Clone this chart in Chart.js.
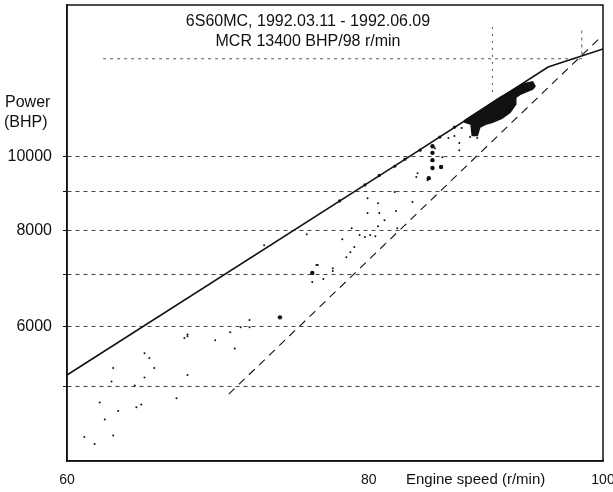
<!DOCTYPE html>
<html lang="en">
<head>
<meta charset="UTF-8">
<title>6S60MC Power / Engine speed</title>
<script src="https://cdn.jsdelivr.net/npm/chart.js"></script>
<style>
  html, body { margin: 0; padding: 0; background: #fff; }
</style>
</head>
<body>
<canvas id="myChart" width="613" height="492"></canvas>
<script>
// axis ticks
const speedTicks = [60, 80, 100];
const speedLabels = ['60', '80', '100'];
const powerTicks = [5000, 6000, 7000, 8000, 9000, 10000];
const powerLabels = ['', '6000', '', '8000', '', '10000'];

// texts
const titleLines = ['6S60MC, 1992.03.11 - 1992.06.09', 'MCR 13400 BHP/98 r/min'];
const yTitle = ['Power', '(BHP)'];
const xTitle = 'Engine speed (r/min)';

// solid limit line
const limitSpeed = [60, 83.2, 94.9, 100];
const limitPower = [5180, 10000, 13070, 13800];

// dashed propeller curve
const propSpeed = [70.0, 99.6];
const propPower = [4890, 14220];

// MCR marker lines (dotted)
const mcrSpeed = [62.1, 98, 98];
const mcrPower = [13400, 13400, 14600];
const markSpeed = [90, 90];
const markPower = [12130, 14830];

// small measurement dots
const dotSpeed = [67.3, 67.1, 70.1, 70.4, 69.1, 64.6, 64.9, 62.7, 65.2, 64.6, 62.6, 67.3, 64.0, 61.9, 63.0, 64.4, 64.1, 66.6, 62.2, 61.0, 61.6, 62.7,
  75.4, 72.4, 76.1, 77.3, 76.6, 75.8, 71.4, 71.4, 70.8, 67.3,
  83.8, 84.6, 83.7, 82.0, 83.4, 80.7, 79.9, 82.1, 80.8, 79.9, 81.2, 78.7, 79.3, 79.7, 80.1, 78.0, 78.9, 78.6, 78.3, 76.2, 77.3, 80.7, 82.2, 80.5,
  86.3, 86.8, 87.2, 87.4, 87.2, 88.1, 88.7, 85.2, 85.8];
const dotPower = [5850, 5790, 5890, 5610, 5750, 5530, 5450, 5290, 5290, 5140, 5080, 5180, 5020, 4770, 4650, 4740, 4700, 4830, 4530, 4300, 4210, 4320,
  7910, 7650, 7210, 7080, 6910, 6850, 6110, 5980, 5980, 5820,
  9500, 9300, 9390, 8980, 8710, 8680, 8810, 8480, 8430, 8430, 8250, 8050, 7890, 7840, 7890, 7790, 7610, 7490, 7380, 7210, 7140, 8100, 8050, 7860,
  10560, 10620, 10400, 10880, 10180, 10590, 10560, 10240, 9970];

// larger dots
const bigSpeed = [73.5, 75.8, 85.0, 85.0, 85.0, 85.0, 85.7, 84.7];
const bigPower = [6160, 7040, 10300, 10100, 9880, 9650, 9680, 9360];

// points lying on the limit line
const bumpSpeed = [77.8, 79.7, 80.8, 82.0, 82.8, 84.0, 85.6, 86.8, 87.7];
const bumpPower = [8740, 9170, 9440, 9700, 9910, 10180, 10590, 10910, 11110];

// outline of the dense cluster near MCR (filled)
const blobSpeed = [87.7, 88.9, 90.6, 92.0, 92.8, 93.5, 93.7, 93.5, 92.4, 92.0, 92.0, 91.5, 90.8, 90.0, 89.4, 88.9, 88.7, 88.3, 88.2, 87.7, 87.7];
const blobPower = [11140, 11450, 11910, 12240, 12420, 12490, 12340, 12240, 12050, 11940, 11690, 11410, 11210, 11080, 11010, 10910, 10650, 10650, 11010, 11080, 11140];

function zip(xs, ys) {
  return xs.map((x, i) => ({ x: x, y: ys[i] }));
}

const ink = '#111';
const font = 'Liberation Sans';

const textPlugin = {
  id: 'texts',
  afterDraw(chart) {
    const ctx = chart.ctx;
    const a = chart.chartArea;
    ctx.save();
    ctx.strokeStyle = ink;
    ctx.lineWidth = 1.5;
    ctx.strokeRect(a.left, a.top, a.right - a.left, a.bottom - a.top);
    ctx.fillStyle = ink;
    ctx.font = '16px "' + font + '"';
    ctx.textBaseline = 'middle';
    ctx.textAlign = 'center';
    ctx.fillText(titleLines[0], 308, 22);
    ctx.fillText(titleLines[1], 308, 42);
    ctx.textAlign = 'left';
    ctx.fillText(yTitle[0], 5, 103);
    ctx.fillText(yTitle[1], 4, 123);
    ctx.font = '15px "' + font + '"';
    ctx.fillText(xTitle, 406, 480);
    ctx.restore();
  }
};

const ctx = document.getElementById('myChart').getContext('2d');
new Chart(ctx, {
  type: 'scatter',
  data: {
    datasets: [
      { data: zip(limitSpeed, limitPower), showLine: true, borderColor: ink, borderWidth: 1.6, pointRadius: 0 },
      { data: zip(propSpeed, propPower), showLine: true, borderColor: ink, borderWidth: 1.1, borderDash: [8, 6], pointRadius: 0 },
      { data: zip(mcrSpeed, mcrPower), showLine: true, borderColor: '#555', borderWidth: 1, borderDash: [3, 4], pointRadius: 0 },
      { data: zip(markSpeed, markPower), showLine: true, borderColor: '#555', borderWidth: 1, borderDash: [2, 5], pointRadius: 0 },
      { data: zip(dotSpeed, dotPower), pointRadius: 1, pointBackgroundColor: ink, pointBorderWidth: 0 },
      { data: zip(bigSpeed, bigPower), pointRadius: 2.2, pointBackgroundColor: ink, pointBorderWidth: 0 },
      { data: zip(bumpSpeed, bumpPower), pointRadius: 1.6, pointBackgroundColor: ink, pointBorderWidth: 0 },
      { data: zip(blobSpeed, blobPower), showLine: true, fill: 'shape', backgroundColor: ink, borderColor: ink, borderWidth: 2, pointRadius: 0 }
    ]
  },
  options: {
    responsive: false,
    animation: false,
    layout: { padding: { top: 5, right: 10, left: 0, bottom: 0 } },
    plugins: { legend: { display: false }, tooltip: { enabled: false } },
    scales: {
      x: {
        type: 'logarithmic',
        min: 60,
        max: 100,
        afterBuildTicks: s => { s.ticks = speedTicks.map(v => ({ value: v })); },
        afterFit: s => { s.height = 31; s.paddingLeft = 0; s.paddingRight = 0; },
        grid: { display: false, drawTicks: false },
        border: { display: true, color: ink, width: 1.5 },
        ticks: {
          autoSkip: false, maxRotation: 0, padding: 11, color: ink,
          font: { family: font, size: 14 },
          callback: (v, i) => speedLabels[i]
        }
      },
      y: {
        type: 'logarithmic',
        min: 4000,
        max: 15750,
        afterBuildTicks: s => { s.ticks = powerTicks.map(v => ({ value: v })); },
        afterFit: s => { s.width = 67; s.paddingTop = 0; s.paddingBottom = 0; },
        grid: { color: '#444', lineWidth: 1, tickLength: 4, tickColor: ink },
        border: { display: true, color: ink, width: 1.5, dash: [4, 4] },
        ticks: {
          autoSkip: false, padding: 11, color: ink,
          font: { family: font, size: 16 },
          callback: (v, i) => powerLabels[i]
        }
      }
    }
  },
  plugins: [textPlugin]
});
</script>
</body>
</html>
